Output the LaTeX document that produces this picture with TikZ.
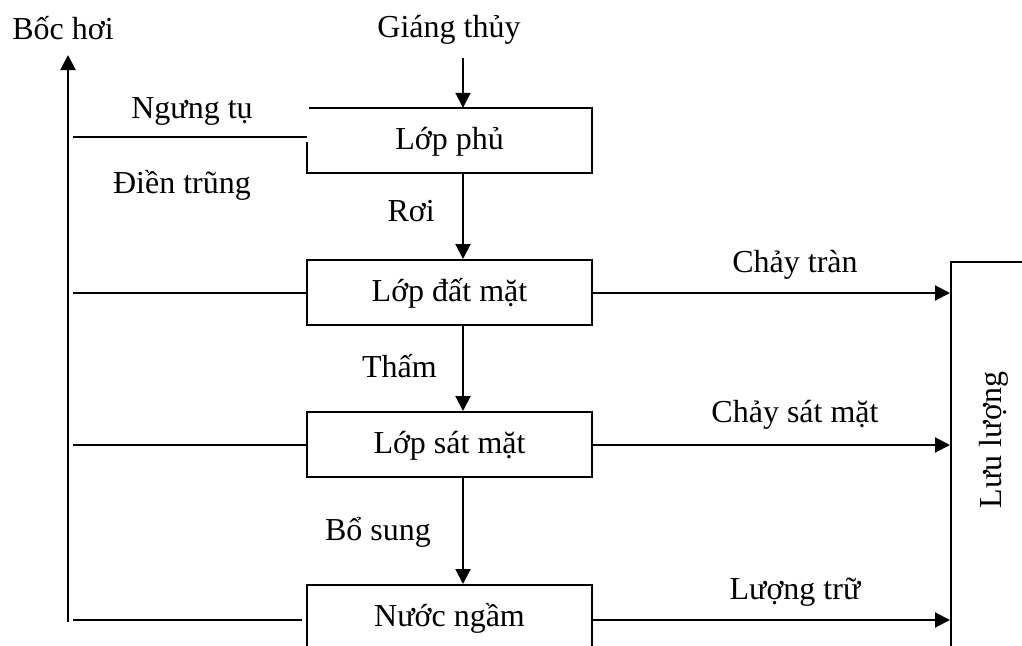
\documentclass[tikz,border=0pt]{standalone}
\usepackage{fontspec}
\setmainfont{Liberation Serif}
\usetikzlibrary{arrows.meta,calc}
\begin{document}
\begin{tikzpicture}[x=1pt,y=-1pt,
  every node/.style={font=\fontsize{32}{36}\selectfont, inner sep=0pt},
  boxnode/.style={minimum width=285pt, minimum height=65pt, text height=24.6pt, text depth=7.4pt},
  lbl/.style={anchor=base},
  ln/.style={line width=2pt},
  arr/.style={line width=2pt, -{Triangle[length=15pt,width=15pt]}}]
\useasboundingbox (0,0) rectangle (1022,645);
\clip (0,0) rectangle (1022,645);
% boxes
\node[boxnode] (phu) at (449.5,140.5) {Lớp phủ};
\node[boxnode, draw, ln] (dat) at (449.5,292.5) {Lớp đất mặt};
\node[boxnode, draw, ln] (sat) at (449.5,444.5) {Lớp sát mặt};
\node[boxnode, draw, ln] (ngam) at (449.5,617.5) {Nước ngầm};
\node[draw, ln, minimum width=100pt, minimum height=420pt, anchor=north west] (luu) at (950,261) {};
\node[rotate=90] (luutext) at (994,440) {Lưu lượng};
% outline of Lớp phủ with gap at upper left
\draw[ln] ($(phu.north west)+(2,0)$) -- (phu.north east) -- (phu.south east) -- (phu.south west) -- ($(phu.north west)+(0,34)$);
% labels
\node[lbl] (bochoi) at (63,39) {Bốc hơi};
\node[lbl] (giang) at (449,37) {Giáng thủy};
\node[lbl] (ngung) at (192,118) {Ngưng tụ};
\node[lbl] (dien) at (182,193) {Điền trũng};
\node[anchor=base east] (roi) at (435,221) {Rơi};
\node[anchor=base east] (tham) at (437,377) {Thấm};
\node[anchor=base east] (bosung) at (431,540) {Bổ sung};
\node[lbl] (tran) at (795,272) {Chảy tràn};
\node[lbl] (satlbl) at (795,422) {Chảy sát mặt};
\node[lbl] (tru) at (795,599) {Lượng trữ};
% coordinates
\coordinate (gin) at (463,58);
\coordinate (vbot) at (68,622);
\coordinate (vtop) at (68,55);
\coordinate (c1) at (73,137);
\coordinate (c2) at (73,293);
\coordinate (c3) at (73,445);
\coordinate (c4) at (73,620);
% vertical flow
\draw[arr] (gin) -- (gin |- phu.north);
\draw[arr] (phu.south -| gin) -- (dat.north -| gin);
\draw[arr] (dat.south -| gin) -- (sat.north -| gin);
\draw[arr] (sat.south -| gin) -- (ngam.north -| gin);
% evaporation line
\draw[arr] (vbot) -- (vtop);
\draw[ln] (c1) -- (c1 -| phu.west);
\draw[ln] (c2) -- (c2 -| dat.west);
\draw[ln] (c3) -- (c3 -| sat.west);
\draw[ln] (c4) -- ($(c4 -| ngam.west)+(-4,0)$);
% outflows
\draw[arr] (dat.east |- c2) -- (c2 -| luu.west);
\draw[arr] (sat.east |- c3) -- (c3 -| luu.west);
\draw[arr] (ngam.east |- c4) -- (c4 -| luu.west);
\end{tikzpicture}
\end{document}
